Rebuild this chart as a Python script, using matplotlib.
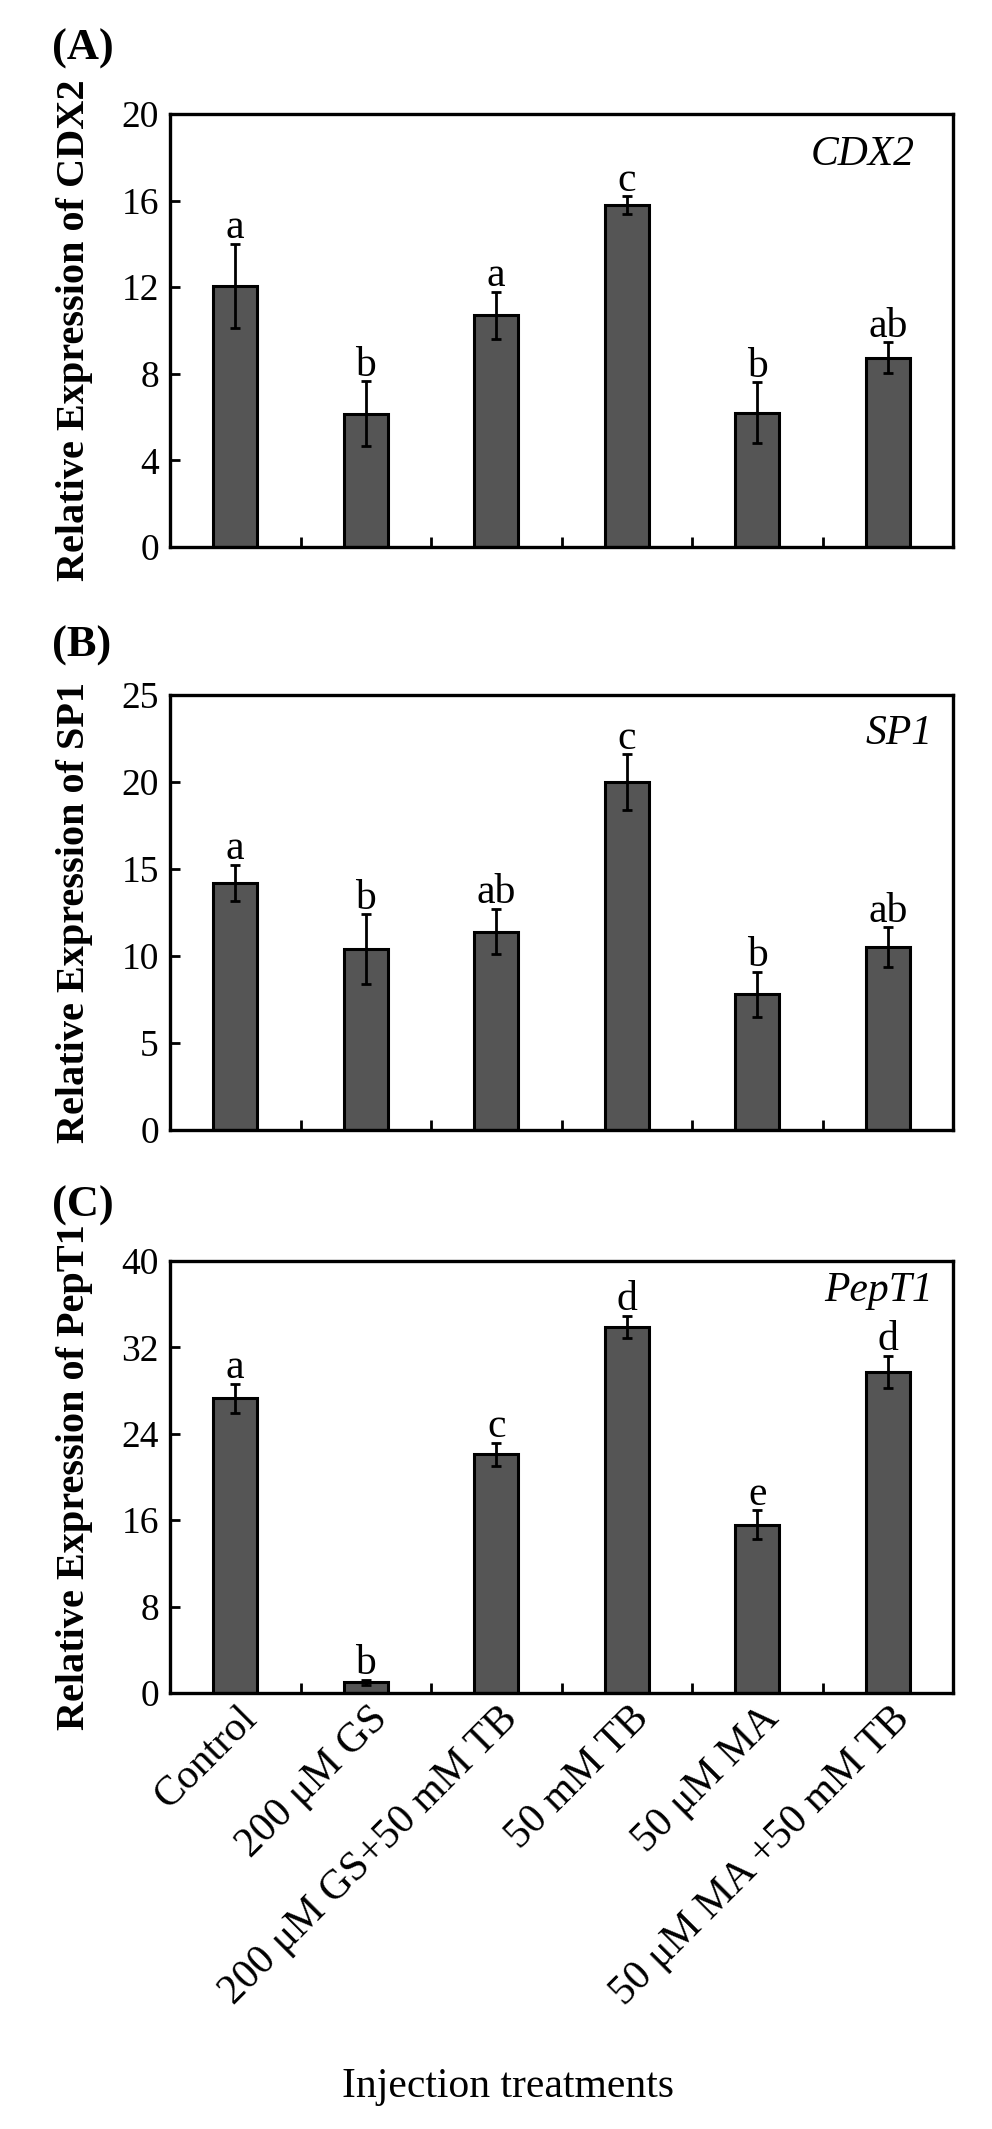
import matplotlib
matplotlib.use("Agg")
import matplotlib.pyplot as plt
import matplotlib.transforms as mtransforms
import numpy as np

plt.rcParams['font.family'] = ['Liberation Serif', 'DejaVu Serif']

# ---------------- data ----------------
categories = ["Control", "200 \u03bcM GS", "200 \u03bcM GS+50 mM TB",
              "50 mM TB", "50 \u03bcM MA", "50 \u03bcM MA +50 mM TB"]

cdx2_mean = [12.05, 6.15, 10.7, 15.8, 6.2, 8.75]
cdx2_err = [1.95, 1.5, 1.1, 0.4, 1.4, 0.7]
cdx2_sig = ["a", "b", "a", "c", "b", "ab"]

sp1_mean = [14.2, 10.4, 11.4, 20.0, 7.8, 10.5]
sp1_err = [1.05, 2.0, 1.3, 1.6, 1.3, 1.15]
sp1_sig = ["a", "b", "ab", "c", "b", "ab"]

pept1_mean = [27.3, 1.0, 22.1, 33.9, 15.6, 29.7]
pept1_err = [1.35, 0.25, 1.05, 1.05, 1.3, 1.5]
pept1_sig = ["a", "b", "c", "d", "e", "d"]

cdx2_ticks = [0, 4, 8, 12, 16, 20]
sp1_ticks = [0, 5, 10, 15, 20, 25]
pept1_ticks = [0, 8, 16, 24, 32, 40]

W, H = 992, 2129
fig = plt.figure(figsize=(W / 100, H / 100), dpi=100)

def rect(left, top, right, bottom):
    return [left / W, 1 - bottom / H, (right - left) / W, (bottom - top) / H]

panels = [
    dict(rect=rect(170, 114, 953, 547), mean=cdx2_mean, err=cdx2_err, sig=cdx2_sig,
         ticks=cdx2_ticks, gene="CDX2", ylabel="Relative Expression of CDX2",
         tag="(A)", tag_base=60, gene_right=915, gene_base=165, top=114, bottom=547),
    dict(rect=rect(170, 695, 953, 1130), mean=sp1_mean, err=sp1_err, sig=sp1_sig,
         ticks=sp1_ticks, gene="SP1", ylabel="Relative Expression of SP1",
         tag="(B)", tag_base=657, gene_right=933, gene_base=744, top=695, bottom=1130),
    dict(rect=rect(170, 1261, 953, 1693), mean=pept1_mean, err=pept1_err, sig=pept1_sig,
         ticks=pept1_ticks, gene="PepT1", ylabel="Relative Expression of PepT1",
         tag="(C)", tag_base=1217, gene_right=933, gene_base=1301, top=1261, bottom=1693),
]

x = np.arange(len(categories))
for i, p in enumerate(panels):
    ax = fig.add_axes(p["rect"])
    ax.bar(x, p["mean"], width=0.335, color="#555555", edgecolor="black",
           linewidth=2.2, zorder=2)
    ax.errorbar(x, p["mean"], yerr=p["err"], fmt="none", ecolor="black",
                elinewidth=2.0, capsize=3.5, capthick=2.0, zorder=3)
    for xi, m, e, s in zip(x, p["mean"], p["err"], p["sig"]):
        ax.annotate(s, xy=(xi, m + e), xytext=(0, 4), textcoords="offset points",
                    ha="center", va="baseline", fontsize=30)
    ax.set_xlim(-0.5, len(categories) - 0.5)
    ax.set_ylim(p["ticks"][0], p["ticks"][-1])
    ax.set_yticks(p["ticks"])
    ax.set_yticklabels([str(t) for t in p["ticks"]])
    ax.tick_params(axis="y", direction="in", length=7, width=2.0, labelsize=27, pad=8)
    ax.set_xticks(x)
    ax.set_xticks(x[:-1] + 0.5, minor=True)
    ax.tick_params(axis="x", which="minor", direction="in", length=7, width=2.0)
    ax.tick_params(axis="x", which="major", length=0)
    for sp in ax.spines.values():
        sp.set_linewidth(2.4)
    if i == 2:
        ax.tick_params(axis="x", which="major", pad=14)
        ax.set_xticklabels(categories, rotation=45, ha="right", va="center",
                           rotation_mode="anchor", fontsize=30)
        offset = mtransforms.ScaledTranslation(0.16, 0, fig.dpi_scale_trans)
        for lab in ax.get_xticklabels():
            lab.set_transform(lab.get_transform() + offset)
    else:
        ax.set_xticklabels([])
    # gene name (italic) inside upper right
    fig.text(p["gene_right"] / W, 1 - p["gene_base"] / H, p["gene"], style="italic",
             ha="right", va="baseline", fontsize=30)
    # panel tag
    fig.text(52 / W, 1 - p["tag_base"] / H, p["tag"], ha="left", va="baseline",
             fontsize=32, fontweight="bold")
    # y label
    yc = (p["top"] + p["bottom"]) / 2
    fig.text(84 / W, 1 - yc / H, p["ylabel"], rotation=90, rotation_mode="anchor",
             ha="center", va="baseline", fontsize=29, fontweight="bold")

fig.text(508 / W, 1 - 2097 / H, "Injection treatments", ha="center", va="baseline",
         fontsize=30)

fig.savefig("out.png", dpi=100)
